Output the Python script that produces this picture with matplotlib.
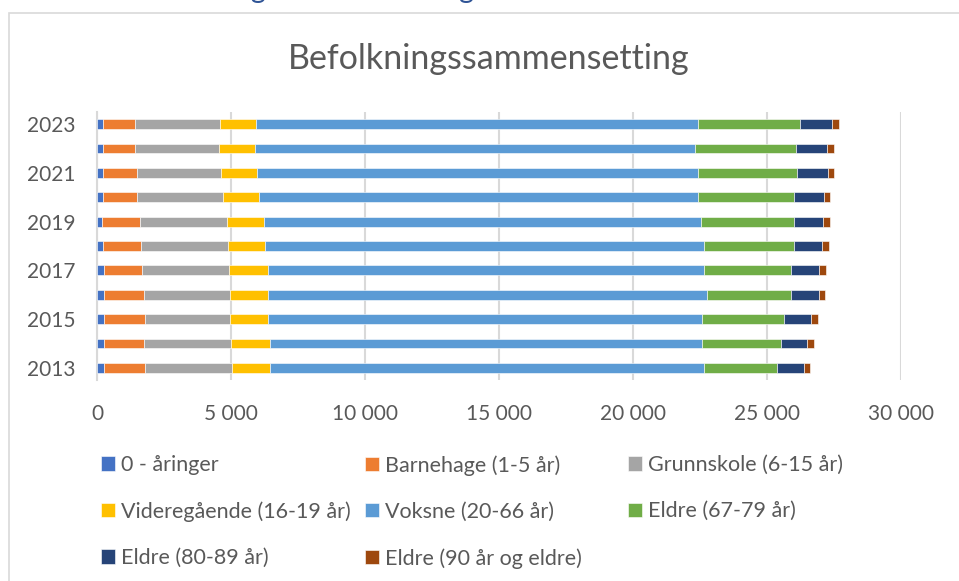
import matplotlib
matplotlib.use("Agg")
import matplotlib.pyplot as plt
from matplotlib.patches import Rectangle
from matplotlib.ticker import FuncFormatter, FixedLocator
import numpy as np

plt.rcParams['font.family'] = ['Lato', 'DejaVu Sans']

years = [2013, 2014, 2015, 2016, 2017, 2018, 2019, 2020, 2021, 2022, 2023]
year_labels = ["2013", "", "2015", "", "2017", "", "2019", "", "2021", "", "2023"]

series_names = ["0 - åringer", "Barnehage (1-5 år)", "Grunnskole (6-15 år)",
                "Videregående (16-19 år)", "Voksne (20-66 år)", "Eldre (67-79 år)",
                "Eldre (80-89 år)", "Eldre (90 år og eldre)"]

nullaringer = [260, 260, 260, 260, 250, 225, 180, 210, 200, 220, 200]
barnehage = [1530, 1490, 1530, 1480, 1430, 1420, 1420, 1280, 1280, 1180, 1220]
grunnskole = [3235, 3235, 3170, 3220, 3245, 3235, 3235, 3210, 3145, 3145, 3170]
videregaende = [1420, 1445, 1405, 1405, 1435, 1390, 1380, 1345, 1345, 1360, 1345]
voksne = [16190, 16155, 16220, 16380, 16280, 16370, 16330, 16395, 16455, 16400, 16475]
eldre_67_79 = [2735, 2920, 3035, 3135, 3270, 3360, 3460, 3555, 3685, 3770, 3815]
eldre_80_89 = [1005, 980, 1020, 1055, 1030, 1055, 1080, 1130, 1165, 1155, 1195]
eldre_90 = [215, 250, 260, 225, 250, 275, 260, 225, 240, 260, 250]

x_ticks = [0, 5000, 10000, 15000, 20000, 25000, 30000]

colors = ["#4472C4", "#ED7D31", "#A5A5A5", "#FFC000",
          "#5B9BD5", "#70AD47", "#264478", "#9E480E"]

series = [nullaringer, barnehage, grunnskole, videregaende,
          voksne, eldre_67_79, eldre_80_89, eldre_90]

W, H = 959, 581
fig = plt.figure(figsize=(W / 100, H / 100), dpi=100)
fig.patch.set_facecolor("white")

# chart frame
fig.add_artist(Rectangle((9 / W, -0.2), 1.2, 1.2 - 13 / H,
                         transform=fig.transFigure, fill=False,
                         edgecolor="#D9D9D9", linewidth=1.2))

# clipped document heading above the chart (only descenders visible)
fig.text(131 / W, 1 + 2 / H, "Befolkningssammensetning", color="#2F5496",
         fontsize=20.5, ha="left", va="baseline")

ax = fig.add_axes([97.3 / W, 1 - 380 / H, (901 - 97.3) / W, (380 - 112) / H])
ypos = np.arange(len(years))
left = np.zeros(len(years))
handles = []
for name, vals, col in zip(series_names, series, colors):
    v = np.array(vals, dtype=float)
    b = ax.barh(ypos, v, left=left, height=0.4, color=col, label=name,
                edgecolor="white", linewidth=0.4, zorder=3)
    handles.append(b)
    left += v

ax.set_xlim(0, 30000)
ax.set_ylim(-0.5, len(years) - 0.5)
ax.xaxis.set_major_locator(FixedLocator(x_ticks))
ax.xaxis.set_major_formatter(FuncFormatter(lambda v, p: f"{int(v):,}".replace(",", " ")))
ax.set_yticks(ypos)
ax.set_yticklabels(year_labels)
ax.grid(axis="x", color="#D9D9D9", linewidth=1.5, zorder=0)
for s in ["top", "right", "bottom"]:
    ax.spines[s].set_visible(False)
ax.spines["left"].set_color("#D9D9D9")
ax.spines["left"].set_linewidth(1.5)
ax.tick_params(axis="both", length=0, labelsize=15, colors="#595959")
ax.tick_params(axis="y", pad=16)
ax.tick_params(axis="x", pad=17)

fig.text(489 / W, 1 - 59 / H, "Befolkningssammensetting", ha="center", va="center",
         fontsize=24.5, color="#595959")

# legend: three columns in row-major Excel order
cols = [[0, 3, 6], [1, 4, 7], [2, 5]]
col_x = [101, 365, 628]
for cx, idxs in zip(col_x, cols):
    fig.legend([handles[i] for i in idxs], [series_names[i] for i in idxs],
               loc="upper left", bbox_to_anchor=(cx / W, 1 - 455 / H),
               frameon=False, fontsize=15.5, labelcolor="#595959",
               handlelength=0.65, handleheight=0.65, handletextpad=0.3,
               labelspacing=1.22, borderpad=0, borderaxespad=0)

fig.savefig("out.png", dpi=100, facecolor="white")
